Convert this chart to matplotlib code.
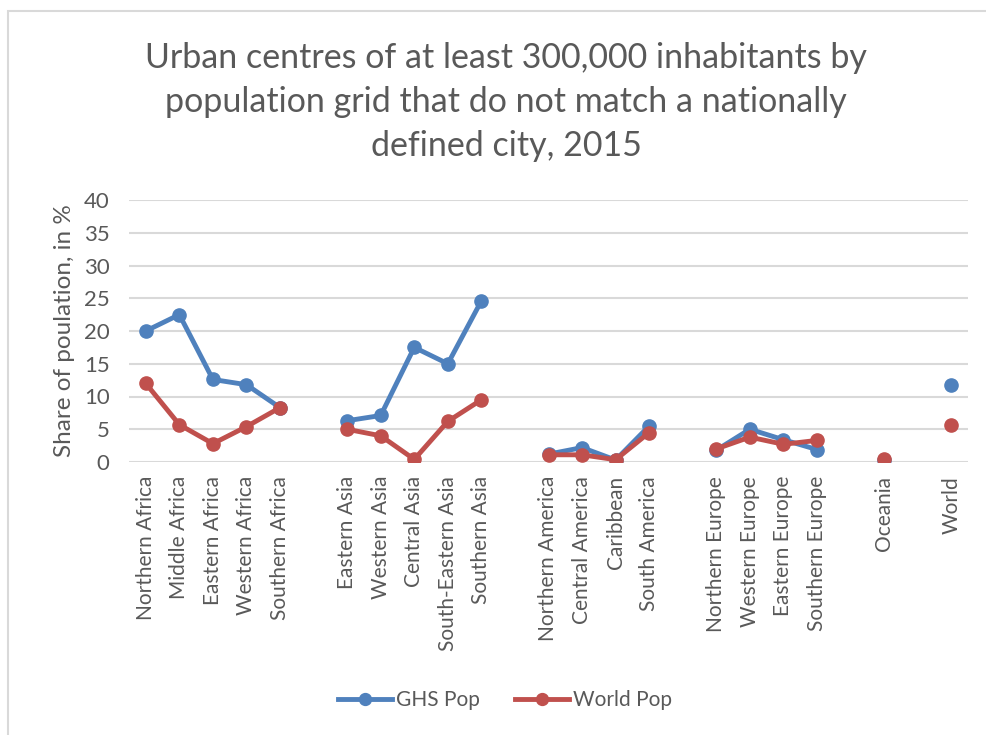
import numpy as np
import matplotlib.pyplot as plt
from matplotlib.patches import Rectangle

# regions, with blank slots ("") separating the continent groups
regions = ["Northern Africa", "Middle Africa", "Eastern Africa", "Western Africa", "Southern Africa", "",
           "Eastern Asia", "Western Asia", "Central Asia", "South-Eastern Asia", "Southern Asia", "",
           "Northern America", "Central America", "Caribbean", "South America", "",
           "Northern Europe", "Western Europe", "Eastern Europe", "Southern Europe", "",
           "Oceania", "", "World"]

nan = np.nan
ghs_pop = [20.0, 22.5, 12.6, 11.8, 8.3, nan,
           6.3, 7.1, 17.5, 15.0, 24.6, nan,
           1.2, 2.2, 0.3, 5.5, nan,
           1.8, 5.0, 3.4, 1.9, nan,
           0.3, nan, 11.8]
world_pop = [12.0, 5.7, 2.8, 5.4, 8.3, nan,
             5.0, 4.0, 0.4, 6.2, 9.5, nan,
             1.1, 1.1, 0.35, 4.5, nan,
             2.0, 3.8, 2.7, 3.3, nan,
             0.4, nan, 5.7]

FONT = "Lato"
GREY = "#595959"
W, H = 986, 735

fig = plt.figure(figsize=(W / 100, H / 100), dpi=100)
fig.patches.append(Rectangle((8 / W, -0.1), 1.2, 1.1 - 11 / H, transform=fig.transFigure,
                             fill=False, edgecolor="#D9D9D9", linewidth=1.5))

ax = fig.add_axes([129 / W, 1 - 462 / H, 839 / W, 262 / H])
x = np.arange(len(regions))
ax.plot(x, ghs_pop, color="#4F81BD", lw=3.5, marker="o", ms=9.5, label="GHS Pop", zorder=3)
ax.plot(x, world_pop, color="#C0504D", lw=3.5, marker="o", ms=9.5, label="World Pop", zorder=4)

ax.set_xlim(-0.5, len(regions) - 0.5)
ax.set_ylim(0, 40)
ax.set_yticks(range(0, 41, 5))
ax.set_xticks(x)
ax.set_xticklabels(regions, rotation=90, fontsize=15, family=FONT, color=GREY)
for lab in ax.get_yticklabels():
    lab.set_family(FONT)
ax.tick_params(axis="y", labelsize=16, labelcolor=GREY, length=0, pad=14)
ax.tick_params(axis="x", length=0, pad=10)
ax.grid(axis="y", color="#D9D9D9", lw=1.5)
ax.set_axisbelow(True)
for s in ax.spines.values():
    s.set_visible(False)
ax.set_ylabel("Share of poulation, in %", fontsize=17.5, family=FONT, color=GREY, labelpad=6)

fig.text(506 / W, 1 - 102 / H,
         "Urban centres of at least 300,000 inhabitants by\npopulation grid that do not match a nationally\ndefined city, 2015",
         ha="center", va="center", fontsize=24.5, family=FONT, color=GREY, linespacing=1.45)

fig.legend(loc="center", bbox_to_anchor=(505 / W, 1 - 700 / H), ncol=2, frameon=False,
           prop={"family": FONT, "size": 15}, labelcolor=GREY, handlelength=2.6,
           columnspacing=1.7, handletextpad=0.2, markerscale=0.9)

fig.savefig("out.png", dpi=100)
